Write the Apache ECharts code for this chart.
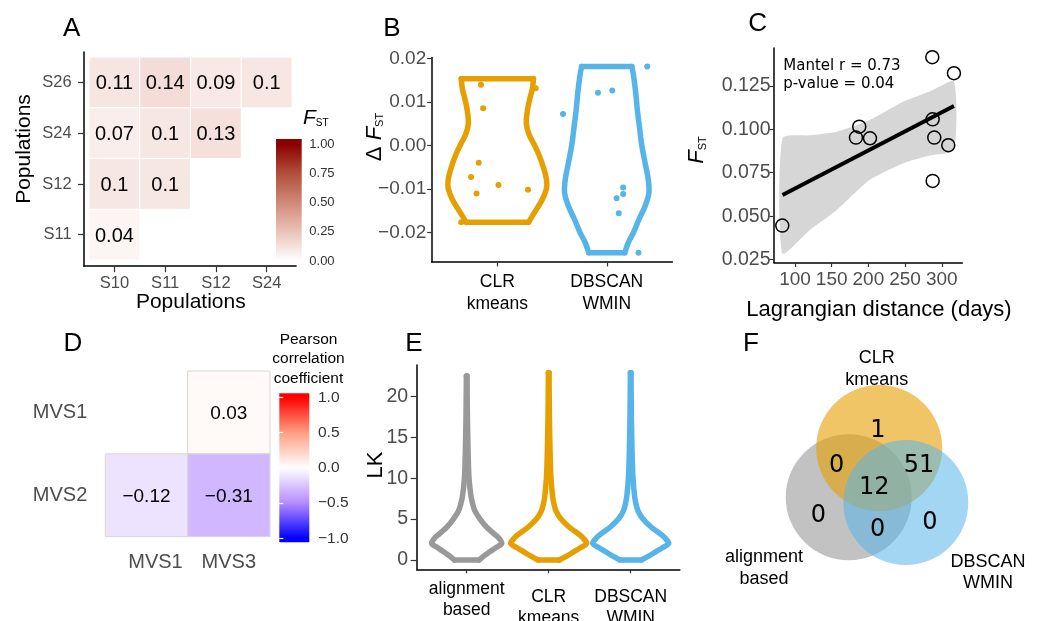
<!DOCTYPE html>
<html>
<head>
<meta charset="utf-8">
<script src="https://cdn.jsdelivr.net/npm/echarts@6/dist/echarts.min.js"></script>
<style>
html, body { margin: 0; padding: 0; background: #fff; }
#chart { width: 1042px; height: 621px; }
</style>
</head>
<body>
<div id="chart"></div>
<script>
// ---- A: pairwise FST heatmap ----
const popsX = ['S10', 'S11', 'S12', 'S24'];
const popsY = ['S11', 'S12', 'S24', 'S26'];
const fstCells = [
  [0, 3, 0.11], [1, 3, 0.14], [2, 3, 0.09], [3, 3, 0.1],
  [0, 2, 0.07], [1, 2, 0.1], [2, 2, 0.13],
  [0, 1, 0.1], [1, 1, 0.1],
  [0, 0, 0.04]
];
const fstTicks = [0, 0.25, 0.5, 0.75, 1];

// ---- B: delta FST violins ----
const methodsB = ['CLR\nkmeans', 'DBSCAN\nWMIN'];
const dFstClr = [0.0139, 0.0085, 0.0131, -0.0040, -0.0073, -0.0091, -0.0102, -0.0111, -0.0177];
const jitterClr = [-0.15, -0.13, 0.35, -0.17, -0.24, 0.01, 0.28, -0.19, -0.33];
const dFstDb = [0.0181, 0.0121, 0.0126, 0.0072, -0.0097, -0.0112, -0.0122, -0.0156, -0.0247];
const jitterDb = [0.37, -0.08, 0.05, -0.40, 0.15, 0.15, 0.09, 0.11, 0.29];
const clrViolinY = [0.0153, 0.0130, 0.0110, 0.0080, 0.0050, 0.0025, 0.0000, -0.0025, -0.0050, -0.0080, -0.0100, -0.0125, -0.0150, -0.0177];
const clrViolinW = [0.33, 0.32, 0.30, 0.275, 0.265, 0.29, 0.34, 0.385, 0.42, 0.45, 0.448, 0.41, 0.35, 0.285];
const dbViolinY = [0.0181, 0.0160, 0.0120, 0.0080, 0.0040, 0.0000, -0.0040, -0.0080, -0.0110, -0.0140, -0.0170, -0.0200, -0.0225, -0.0247];
const dbViolinW = [0.23, 0.245, 0.265, 0.28, 0.30, 0.32, 0.35, 0.38, 0.385, 0.35, 0.295, 0.245, 0.195, 0.165];
const dFstTicks = [-0.02, -0.01, 0, 0.01, 0.02];

// ---- C: isolation by distance ----
const lagDist = [82.7, 187.6, 183.1, 202.2, 287.1, 287.6, 289.8, 308.9, 287.6, 316.6];
const fstPairs = [0.0446, 0.1015, 0.0952, 0.0948, 0.1414, 0.1057, 0.0952, 0.0908, 0.0703, 0.1322];
const fitX = [83, 316.6];
const fitY = [0.0622, 0.1134];
const bandX = [83, 120, 157, 202, 248, 285, 316.6];
const bandUpper = [0.0948, 0.0965, 0.0986, 0.1053, 0.1159, 0.1220, 0.1274];
const bandLower = [0.0287, 0.0420, 0.0536, 0.0709, 0.0805, 0.0850, 0.0881];
const distTicks = [100, 150, 200, 250, 300];
const fstAxisTicks = [0.025, 0.05, 0.075, 0.1, 0.125];

// ---- D: MVS correlations ----
const mvsX = ['MVS1', 'MVS3'];
const mvsY = ['MVS2', 'MVS1'];
const corrCells = [[1, 1, 0.03], [0, 0, -0.12], [1, 0, -0.31]];
const corrTicks = [-1, -0.5, 0, 0.5, 1];

// ---- E: LK violins ----
const lkMethods = ['alignment\nbased', 'CLR\nkmeans', 'DBSCAN\nWMIN'];
const lkYAlign = [0, 0.5, 1, 1.5, 2, 2.5, 3, 4, 5, 6, 7, 8, 10, 12, 15, 18, 22.5];
const lkWAlign = [0.15, 0.21, 0.28, 0.354, 0.427, 0.406, 0.358, 0.244, 0.163, 0.1, 0.069, 0.049, 0.028, 0.02, 0.013, 0.008, 0.004];
const lkYClr = [0, 0.5, 1, 1.5, 2, 2.5, 3, 4, 5, 6, 7, 8, 10, 12, 15, 18, 22.9];
const lkWClr = [0.13, 0.224, 0.305, 0.386, 0.463, 0.435, 0.386, 0.252, 0.15, 0.089, 0.061, 0.045, 0.028, 0.02, 0.013, 0.008, 0.004];
const lkYDb = [0, 0.5, 1, 1.5, 2, 2.5, 3, 4, 5, 6, 7, 8, 10, 12, 15, 18, 22.9];
const lkWDb = [0.13, 0.224, 0.305, 0.386, 0.463, 0.435, 0.386, 0.252, 0.15, 0.089, 0.061, 0.045, 0.028, 0.02, 0.013, 0.008, 0.004];
const lkTicks = [0, 5, 10, 15, 20];

// ---- F: Venn ----
const vennSets = ['alignment\nbased', 'CLR\nkmeans', 'DBSCAN\nWMIN'];
// regions: CLR only, align+CLR, CLR+DBSCAN, all three, align only, align+DBSCAN, DBSCAN only
const vennCounts = [1, 0, 51, 12, 0, 0, 0];

// layout / styles
const SANS = '"Liberation Sans", Arial, sans-serif';
const DEJAVU = '"DejaVu Sans", sans-serif';
const GREY_TXT = '#4d4d4d';
const methodColors = ['#999999', '#E69F00', '#56B4E9'];
const fstStops = ['#ffffff', '#ebc3b9', '#d18978', '#b14f3b', '#8b0000'];
const corrStops = ['#0000ff', '#b38bff', '#ffffff', '#ff9e81', '#ff0000'];
const vennCircle = [
  { x: -0.457, y: -0.241, r: 1 },
  { x: 0.027, y: 0.54, r: 1 },
  { x: 0.449, y: -0.325, r: 0.992 }
];
const vennLabelPos = [[-1.8, -1.344], [-0.013, 1.817], [1.754, -1.413]];
const vennRegionPos = [[0.008, 0.81], [-0.648, 0.25], [0.659, 0.25], [-0.051, -0.095], [-0.94, -0.534], [0.003, -0.757], [0.833, -0.65]];

const minus = (s) => s.replace('-', '\u2212');

function barGradient(stops, lo, hi, barLo, barHi) {
  return new echarts.graphic.LinearGradient(0, 1, 0, 0, stops.map((c, i) => ({
    offset: (lo + (hi - lo) * i / (stops.length - 1) - barLo) / (barHi - barLo),
    color: c
  })));
}

function axisLine() {
  return { show: true, onZero: false, lineStyle: { color: '#000', width: 1.5 } };
}

function valueAxis(grid, min, max, ticks, label, tickLen) {
  return {
    gridIndex: grid, type: 'value', min: min, max: max,
    axisLine: axisLine(),
    axisTick: { show: true, length: tickLen, customValues: ticks, lineStyle: { color: '#333', width: 1.2 } },
    axisLabel: Object.assign({ customValues: ticks, color: GREY_TXT, fontFamily: SANS }, label),
    splitLine: { show: false }
  };
}

function hiddenAxis(grid, min, max) {
  return { gridIndex: grid, type: 'value', min: min, max: max, show: false, splitLine: { show: false } };
}

// outline of a violin: two smoothed sides joined by straight ends
function violinSeries(xi, yi, violins, colors, width) {
  return {
    type: 'custom', xAxisIndex: xi, yAxisIndex: yi, silent: true,
    data: violins.map((v, i) => [i]),
    renderItem: (params, api) => {
      const i = params.dataIndex, v = violins[i];
      const right = v.y.map((y, k) => api.coord([i + v.w[k], y]));
      const left = v.y.map((y, k) => api.coord([i - v.w[k], y]));
      const n = right.length - 1;
      const style = { fill: 'none', stroke: colors[i], lineWidth: width, lineJoin: 'round', lineCap: 'round' };
      return {
        type: 'group',
        children: [
          { type: 'polyline', shape: { points: right, smooth: 0.35 }, style: style },
          { type: 'polyline', shape: { points: left, smooth: 0.35 }, style: style },
          { type: 'line', shape: { x1: left[0][0], y1: left[0][1], x2: right[0][0], y2: right[0][1] }, style: style },
          { type: 'line', shape: { x1: left[n][0], y1: left[n][1], x2: right[n][0], y2: right[n][1] }, style: style }
        ]
      };
    }
  };
}

function cellSeries(xi, yi, cells, colorOf, labelOf, fontSize, border) {
  return {
    type: 'custom', xAxisIndex: xi, yAxisIndex: yi, silent: true,
    data: cells.map(c => [c[0] + 1, c[1] + 1, c[2]]),
    renderItem: (params, api) => {
      const c = api.coord([api.value(0), api.value(1)]);
      const s = api.size([1, 1]);
      const v = api.value(2);
      return {
        type: 'group',
        children: [
          { type: 'rect', shape: { x: c[0] - s[0] / 2, y: c[1] - s[1] / 2, width: s[0], height: s[1] },
            style: { fill: colorOf(v), stroke: border, lineWidth: 1 } },
          { type: 'text', x: c[0], y: c[1] + 1.5,
            style: { text: labelOf(v), fill: '#000', fontSize: fontSize, fontFamily: SANS, align: 'center', verticalAlign: 'middle' } }
        ]
      };
    }
  };
}

function colorbarSeries(xi, yi, gradient, barLo, barHi) {
  return {
    type: 'custom', xAxisIndex: xi, yAxisIndex: yi, silent: true, z: 1,
    data: [[0]],
    renderItem: (params, api) => {
      const p0 = api.coord([0, barHi]);
      const p1 = api.coord([1, barLo]);
      return { type: 'rect', shape: { x: p0[0], y: p0[1], width: p1[0] - p0[0], height: p1[1] - p0[1] }, style: { fill: gradient } };
    }
  };
}

const chart = echarts.init(document.getElementById('chart'));

const fstBar = [-0.006, 1.045];
const corrBar = [-1.057, 1.057];

const option = {
  animation: false,
  textStyle: { fontFamily: SANS },
  grid: [
    { left: 84, top: 52, width: 212.1, height: 214.2, outerBoundsMode: 'none' },
    { left: 276, top: 139, width: 25.7, height: 122.7, outerBoundsMode: 'none' },
    { left: 431.7, top: 57.4, width: 240.7, height: 204.5, outerBoundsMode: 'none' },
    { left: 774, top: 48, width: 188.3, height: 214.5, outerBoundsMode: 'none' },
    { left: 105.3, top: 371, width: 164.7, height: 165.7, outerBoundsMode: 'none' },
    { left: 279.3, top: 393.3, width: 30, height: 149, outerBoundsMode: 'none' },
    { left: 416.7, top: 365, width: 263.2, height: 204.3, outerBoundsMode: 'none' },
    { left: 738.9, top: 343.4, width: 277.2, height: 277.2, outerBoundsMode: 'none' }
  ],
  xAxis: [
    valueAxis(0, 0.4, 4.58, [1, 2, 3, 4], { formatter: v => popsX[Math.round(v) - 1], fontSize: 16.5, lineHeight: 18, margin: 8.5 }, 6),
    hiddenAxis(1, 0, 1),
    valueAxis(2, -0.6, 1.6, [0, 1], { formatter: v => methodsB[Math.round(v)], color: '#000', fontSize: 17.5, lineHeight: 21.7, margin: 9.5 }, 4.5),
    valueAxis(3, 71.4, 328, distTicks, { fontSize: 19, lineHeight: 22, margin: 6.5 }, 4.5),
    Object.assign(valueAxis(4, 0.5, 2.5, [1, 2], {
      formatter: v => (Math.round(v) === 1 ? '{s|' + mvsX[0] + '}' : '{n|' + mvsX[1] + '}'),
      rich: { s: { fontSize: 20, color: GREY_TXT, padding: [0, 0, 0, 18] }, n: { fontSize: 20, color: GREY_TXT } },
      fontSize: 20, lineHeight: 22, margin: 14.8
    }, 0), { axisLine: { show: false, onZero: false }, axisTick: { show: false } }),
    hiddenAxis(5, 0, 1),
    valueAxis(6, -0.61, 2.6, [0, 1, 2], {
      formatter: v => {
        const i = Math.round(v);
        const parts = lkMethods[i].split('\n');
        const body = '{a|' + parts[0] + '}\n{a|' + parts[1] + '}';
        return i === 0 ? body : '{e| }\n' + body;
      },
      rich: {
        a: { fontSize: 17.5, lineHeight: 21, color: '#000', fontFamily: SANS },
        e: { fontSize: 2, lineHeight: 8 }
      },
      margin: 9
    }, 4),
    hiddenAxis(7, -2.2, 2.2)
  ],
  yAxis: [
    valueAxis(0, 0.38, 4.6, [1, 2, 3, 4], { formatter: v => popsY[Math.round(v) - 1], fontSize: 16.5, margin: 12.3 }, 6),
    Object.assign(hiddenAxis(1, fstBar[0], fstBar[1]), {
      show: true, position: 'right',
      axisLine: { show: false }, axisTick: { show: false },
      axisLabel: { customValues: fstTicks, formatter: v => v.toFixed(2), color: '#333', fontSize: 13, margin: 7.6 }
    }),
    valueAxis(2, -0.0268, 0.0202, dFstTicks, { formatter: v => minus(v.toFixed(2)), fontSize: 19, margin: 5.5 }, 4.5),
    valueAxis(3, 0.0234, 0.1467, fstAxisTicks, { formatter: v => v.toFixed(3), fontSize: 19.5, margin: 3.5 }, 4.5),
    Object.assign(valueAxis(4, 0.5, 2.5, [1, 2], { formatter: v => mvsY[Math.round(v) - 1], fontSize: 20, margin: 18 }, 0),
      { axisLine: { show: false, onZero: false }, axisTick: { show: false } }),
    Object.assign(hiddenAxis(5, corrBar[0], corrBar[1]), {
      show: true, position: 'right', z: 10,
      axisLine: { show: false },
      axisTick: { show: true, inside: true, length: 4, customValues: corrTicks, lineStyle: { color: '#fff', width: 1.2 } },
      axisLabel: { customValues: corrTicks, formatter: v => minus(v.toFixed(1)), color: '#333', fontSize: 15.5, margin: 8.7 }
    }),
    Object.assign(hiddenAxis(5, corrBar[0], corrBar[1]), {
      show: true, position: 'left', z: 10,
      axisLine: { show: false },
      axisTick: { show: true, inside: true, length: 4, customValues: corrTicks, lineStyle: { color: '#fff', width: 1.2 } },
      axisLabel: { show: false }
    }),
    valueAxis(6, -1.14, 23.84, lkTicks, { fontSize: 19.5, margin: 8.5 }, 6),
    hiddenAxis(7, -2.2, 2.2)
  ],
  series: [
    // A
    cellSeries(0, 0, fstCells, v => echarts.color.lerp(v, fstStops), v => String(v), 20, '#ffffff'),
    colorbarSeries(1, 1, barGradient(fstStops, 0, 1, fstBar[0], fstBar[1]), fstBar[0], fstBar[1]),
    // B
    violinSeries(2, 2, [{ y: clrViolinY, w: clrViolinW }, { y: dbViolinY, w: dbViolinW }], [methodColors[1], methodColors[2]], 5.5),
    {
      type: 'scatter', xAxisIndex: 2, yAxisIndex: 2, symbolSize: 6, silent: true,
      itemStyle: { color: methodColors[1], opacity: 1 },
      data: dFstClr.map((v, i) => [0 + jitterClr[i], v])
    },
    {
      type: 'scatter', xAxisIndex: 2, yAxisIndex: 2, symbolSize: 6, silent: true,
      itemStyle: { color: methodColors[2], opacity: 1 },
      data: dFstDb.map((v, i) => [1 + jitterDb[i], v])
    },
    // C
    {
      type: 'custom', xAxisIndex: 3, yAxisIndex: 3, silent: true,
      data: [[0]],
      renderItem: (params, api) => {
        const up = bandX.map((x, i) => api.coord([x, bandUpper[i]]));
        const lo = bandX.map((x, i) => api.coord([x, bandLower[i]])).reverse();
        return { type: 'polygon', shape: { points: up.concat(lo), smooth: 0.2 }, style: { fill: '#d6d6d6' } };
      }
    },
    {
      type: 'line', xAxisIndex: 3, yAxisIndex: 3, silent: true, showSymbol: false,
      lineStyle: { color: '#000', width: 4 },
      data: fitX.map((x, i) => [x, fitY[i]])
    },
    {
      type: 'scatter', xAxisIndex: 3, yAxisIndex: 3, silent: true, symbolSize: 13,
      itemStyle: { color: 'rgba(0,0,0,0)', borderColor: '#000', borderWidth: 1.5, opacity: 1 },
      data: lagDist.map((x, i) => [x, fstPairs[i]])
    },
    // D
    cellSeries(4, 4, corrCells, v => echarts.color.lerp((v + 1) / 2, corrStops),
      v => (v < 0 ? '\u2212' + Math.abs(v).toFixed(2) : v.toFixed(2)), 19, '#dcd6d6'),
    colorbarSeries(5, 5, barGradient(corrStops, -1, 1, corrBar[0], corrBar[1]), corrBar[0], corrBar[1]),
    // E
    violinSeries(6, 7, [{ y: lkYAlign, w: lkWAlign }, { y: lkYClr, w: lkWClr }, { y: lkYDb, w: lkWDb }], methodColors, 5.5),
    // F
    {
      type: 'custom', xAxisIndex: 7, yAxisIndex: 8, silent: true,
      data: vennSets.map((s, i) => [i]),
      renderItem: (params, api) => {
        const i = params.dataIndex, c = vennCircle[i];
        const p = api.coord([c.x, c.y]);
        const r = api.size([c.r, 0])[0];
        const lp = api.coord(vennLabelPos[i]);
        return {
          type: 'group',
          children: [
            { type: 'circle', shape: { cx: p[0], cy: p[1], r: r },
              style: { fill: methodColors[i], opacity: i === 2 ? 0.55 : 0.6 } },
            { type: 'text', x: lp[0], y: lp[1] + 1.5, z2: 10,
              style: { text: vennSets[i], fill: '#000', fontSize: 18, fontFamily: SANS, lineHeight: 21.7, align: 'center', verticalAlign: 'middle' } }
          ]
        };
      }
    },
    {
      type: 'custom', xAxisIndex: 7, yAxisIndex: 8, silent: true, z: 3,
      data: vennCounts.map((n, i) => [i, n]),
      renderItem: (params, api) => {
        const p = api.coord(vennRegionPos[params.dataIndex]);
        return { type: 'text', x: p[0], y: p[1],
          style: { text: String(api.value(1)), fill: '#000', fontSize: 24, fontFamily: DEJAVU, align: 'center', verticalAlign: 'middle' } };
      }
    }
  ],
  graphic: [
    // panel letters
    ...[['A', 71.7, 28.5], ['B', 392, 28.5], ['C', 757.7, 23.5], ['D', 73, 344], ['E', 414, 344], ['F', 751, 343.5]].map(l => ({
      type: 'text', x: l[1], y: l[2],
      style: { text: l[0], fill: '#000', fontSize: 26, fontFamily: SANS, align: 'center', verticalAlign: 'middle' }
    })),
    // A titles
    { type: 'text', x: 24, y: 149, rotation: Math.PI / 2,
      style: { text: 'Populations', fill: '#000', fontSize: 21, fontFamily: SANS, align: 'center', verticalAlign: 'middle' } },
    { type: 'text', x: 190.8, y: 302,
      style: { text: 'Populations', fill: '#000', fontSize: 21, fontFamily: SANS, align: 'center', verticalAlign: 'middle' } },
    { type: 'text', x: 303, y: 118,
      style: { text: '{f|F}{s|ST}', align: 'left', verticalAlign: 'middle',
        rich: { f: { fontStyle: 'italic', fontSize: 21, fontFamily: SANS, fill: '#000' }, s: { fontSize: 10, fontFamily: SANS, fill: '#000', verticalAlign: 'bottom' } } } },
    // B title
    { type: 'text', x: 374.5, y: 137, rotation: Math.PI / 2,
      style: { text: '{d|\u0394 }{f|F}{s|ST}', align: 'center', verticalAlign: 'middle',
        rich: { d: { fontSize: 22, fontFamily: SANS, fill: '#000' }, f: { fontStyle: 'italic', fontSize: 22, fontFamily: SANS, fill: '#000' }, s: { fontSize: 11, fontFamily: SANS, fill: '#000', verticalAlign: 'bottom' } } } },
    // C titles
    { type: 'text', x: 697, y: 150, rotation: Math.PI / 2,
      style: { text: '{f|F}{s|ST}', align: 'center', verticalAlign: 'middle',
        rich: { f: { fontStyle: 'italic', fontSize: 22, fontFamily: SANS, fill: '#000' }, s: { fontSize: 11, fontFamily: SANS, fill: '#000', verticalAlign: 'bottom' } } } },
    { type: 'text', x: 879, y: 309.5,
      style: { text: 'Lagrangian distance (days)', fill: '#000', fontSize: 22, fontFamily: SANS, align: 'center', verticalAlign: 'middle' } },
    { type: 'text', x: 783.3, y: 75,
      style: { text: 'Mantel r = 0.73\np-value = 0.04', fill: '#000', fontSize: 15, lineHeight: 18.5, fontFamily: DEJAVU, align: 'left', verticalAlign: 'middle' } },
    // D legend title
    { type: 'text', x: 308.5, y: 359,
      style: { text: 'Pearson\ncorrelation\ncoefficient', fill: '#000', fontSize: 15.5, lineHeight: 19.7, fontFamily: SANS, align: 'center', verticalAlign: 'middle' } },
    // E title
    { type: 'text', x: 376, y: 465, rotation: Math.PI / 2,
      style: { text: 'LK', fill: '#000', fontSize: 22, fontFamily: SANS, align: 'center', verticalAlign: 'middle' } }
  ]
};

chart.setOption(option);
</script>
</body>
</html>
